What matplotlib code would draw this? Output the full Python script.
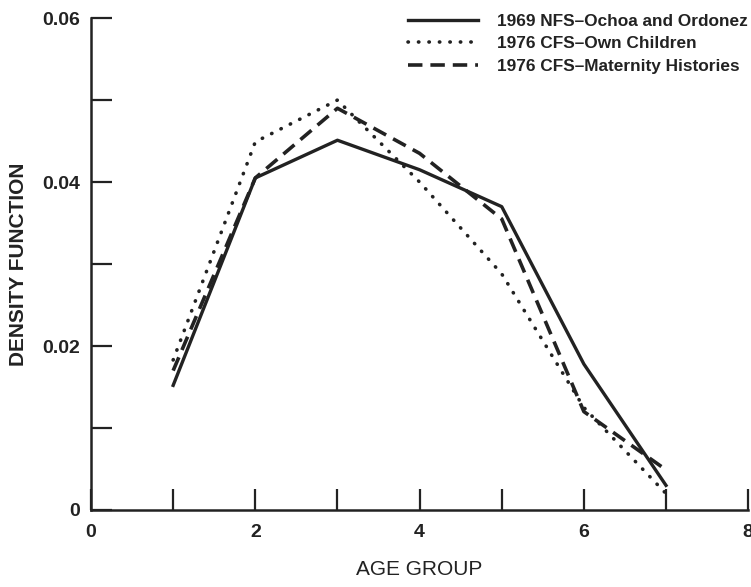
import matplotlib
matplotlib.use('Agg')
import matplotlib.pyplot as plt

# age groups and density values
age_group = [1, 2, 3, 4, 5, 6, 7]
nfs_1969 = [0.0152, 0.0405, 0.0451, 0.0415, 0.0370, 0.0178, 0.0030]
cfs_own_children = [0.0183, 0.0449, 0.0500, 0.0400, 0.0288, 0.0125, 0.0020]
cfs_maternity = [0.0170, 0.0405, 0.0490, 0.0435, 0.0355, 0.0120, 0.0049]

labels = ["1969 NFS\u2013Ochoa and Ordonez",
          "1976 CFS\u2013Own Children",
          "1976 CFS\u2013Maternity Histories"]

x_ticks = [0, 1, 2, 3, 4, 5, 6, 7, 8]
x_ticklabels = ["0", "", "2", "", "4", "", "6", "", "8"]
y_ticks = [0, 0.01, 0.02, 0.03, 0.04, 0.05, 0.06]
y_ticklabels = ["0", "", "0.02", "", "0.04", "", "0.06"]

plt.rcParams['font.family'] = ['Liberation Sans', 'DejaVu Sans']
ink = '#222222'

fig = plt.figure(figsize=(7.51, 5.87), dpi=100)
ax = fig.add_axes([0.1212, 0.1312, 0.875, 0.838])

ax.plot(age_group, nfs_1969, color=ink, linewidth=2.4, label=labels[0])
ax.plot(age_group, cfs_own_children, color=ink, linewidth=2.6,
        linestyle=(0, (0.1, 2.8)), dash_capstyle='round', label=labels[1])
ax.plot(age_group, cfs_maternity, color=ink, linewidth=2.6,
        linestyle=(0, (4, 2.2)), label=labels[2])

ax.set_xlim(0, 8)
ax.set_ylim(0, 0.06)
ax.set_xticks(x_ticks)
ax.set_xticklabels(x_ticklabels)
ax.set_yticks(y_ticks)
ax.set_yticklabels(y_ticklabels)

for side in ['top', 'right']:
    ax.spines[side].set_visible(False)
for side in ['left', 'bottom']:
    ax.spines[side].set_linewidth(1.8)
    ax.spines[side].set_color(ink)

ax.tick_params(direction='in', length=15, width=1.6, color=ink,
               labelsize=14, labelcolor=ink)
ax.tick_params(axis='x', pad=10)
ax.tick_params(axis='y', pad=8)
for t in ax.get_xticklabels() + ax.get_yticklabels():
    t.set_fontweight('bold')

ax.set_xlabel("AGE GROUP", fontsize=15, color=ink, labelpad=14)
ax.set_ylabel("DENSITY FUNCTION", fontsize=15, fontweight='bold', color=ink, labelpad=10)

leg = ax.legend(loc='upper left', bbox_to_anchor=(0.543, 0.977),
                bbox_transform=fig.transFigure, frameon=False,
                borderpad=0, borderaxespad=0,
                handlelength=4.06, handletextpad=1.1, labelspacing=0.45,
                prop={'size': 12.4, 'weight': 'bold'})
for t in leg.get_texts():
    t.set_color(ink)

plt.savefig("out.png", dpi=100)
